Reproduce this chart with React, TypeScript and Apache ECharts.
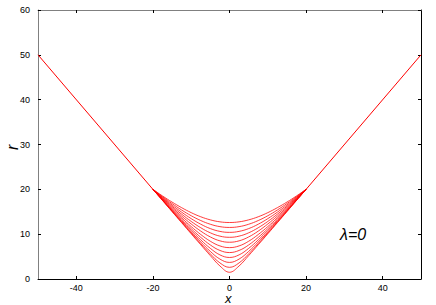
import React, { useEffect, useRef } from "react";
import * as echarts from "echarts";

// x positions (half, x >= 0); curves are symmetric about x = 0
const xHalf = [0, 2.5, 5, 7.5, 10, 12.5, 15, 17.5, 20];

// r values at xHalf
const curve1 = [1.5, 2.91, 5.21, 7.63, 10.08, 12.56, 15.03, 17.52, 20];
const curve2 = [2.6, 3.59, 5.6, 7.88, 10.25, 12.66, 15.1, 17.55, 20];
const curve3 = [3.7, 4.44, 6.15, 8.25, 10.5, 12.83, 15.2, 17.59, 20];
const curve4 = [4.8, 5.38, 6.83, 8.72, 10.83, 13.05, 15.33, 17.65, 20];
const curve5 = [5.9, 6.37, 7.59, 9.28, 11.23, 13.32, 15.5, 17.73, 20];
const curve6 = [7.0, 7.38, 8.42, 9.92, 11.69, 13.64, 15.7, 17.83, 20];
const curve7 = [8.2, 8.51, 9.38, 10.68, 12.27, 14.04, 15.95, 17.95, 20];
const curve8 = [9.3, 9.56, 10.3, 11.43, 12.84, 14.46, 16.21, 18.07, 20];
const curve9 = [10.4, 10.62, 11.24, 12.22, 13.46, 14.91, 16.5, 18.21, 20];
const curve10 = [11.5, 11.68, 12.21, 13.04, 14.11, 15.39, 16.82, 18.36, 20];
const curve11 = [12.6, 12.75, 13.19, 13.88, 14.8, 15.91, 17.16, 18.53, 20];
const curves = [curve1, curve2, curve3, curve4, curve5, curve6, curve7, curve8, curve9, curve10, curve11];

// outer straight branches
const leftBranch: [number, number][] = [[-50, 50], [-20, 20]];
const rightBranch: [number, number][] = [[20, 20], [50, 50]];

const xTickValues = [-40, -20, 0, 20, 40];
const annotation = "λ=0";

const FONT = "'Liberation Sans', Arial, Helvetica, sans-serif";
const RED = "#ff0000";

function mirror(vals: number[]): [number, number][] {
  const pts: [number, number][] = [];
  for (let i = xHalf.length - 1; i > 0; i--) pts.push([-xHalf[i], vals[i]]);
  for (let i = 0; i < xHalf.length; i++) pts.push([xHalf[i], vals[i]]);
  return pts;
}

export default function App() {
  const ref = useRef<HTMLDivElement>(null);
  useEffect(() => {
    if (!ref.current) return;
    const chart = echarts.init(ref.current, null, { renderer: "svg" });
    const series: any[] = curves.map((c) => ({
      type: "line",
      data: mirror(c),
      smooth: 0.4,
      showSymbol: false,
      symbol: "none",
      lineStyle: { color: RED, width: 0.9, opacity: 0.85 },
      silent: true,
    }));
    series.push(
      { type: "line", data: leftBranch, showSymbol: false, symbol: "none", lineStyle: { color: RED, width: 1 }, silent: true },
      { type: "line", data: rightBranch, showSymbol: false, symbol: "none", lineStyle: { color: RED, width: 1 }, silent: true }
    );
    const tickStyle = { show: true, inside: true, length: 3, lineStyle: { color: "#000", width: 1 } };
    chart.setOption({
      animation: false,
      grid: { left: 38, right: 15, top: 10, bottom: 26 },
      xAxis: [
        {
          type: "value",
          min: -50,
          max: 50,
          position: "bottom",
          splitLine: { show: false },
          axisLine: { show: true, onZero: false, lineStyle: { color: "#000", width: 1 } },
          axisTick: { ...tickStyle, customValues: xTickValues },
          axisLabel: { customValues: xTickValues, color: "#000", fontSize: 9, lineHeight: 9, fontFamily: FONT, margin: 4 },
        },
        {
          type: "value",
          min: -50,
          max: 50,
          position: "top",
          splitLine: { show: false },
          axisLine: { show: true, onZero: false, lineStyle: { color: "#808080", width: 1 } },
          axisTick: { ...tickStyle, customValues: xTickValues },
          axisLabel: { show: false },
        },
      ],
      yAxis: [
        {
          type: "value",
          min: 0,
          max: 60,
          interval: 10,
          position: "left",
          splitLine: { show: false },
          axisLine: { show: true, onZero: false, lineStyle: { color: "#808080", width: 1 } },
          axisTick: tickStyle,
          axisLabel: { color: "#000", fontSize: 9, fontFamily: FONT, margin: 8 },
        },
        {
          type: "value",
          min: 0,
          max: 60,
          interval: 10,
          position: "right",
          splitLine: { show: false },
          axisLine: { show: true, onZero: false, lineStyle: { color: "#000", width: 1 } },
          axisTick: tickStyle,
          axisLabel: { show: false },
        },
      ],
      series,
      graphic: [
        {
          type: "text",
          left: 225,
          top: 292,
          style: { text: "x", font: `italic 13px ${FONT}`, lineHeight: 12, fill: "#000" },
        },
        {
          type: "text",
          x: 4,
          y: 150,
          rotation: Math.PI / 2,
          style: { text: "r", font: `italic 16px ${FONT}`, fill: "#000" },
        },
        {
          type: "text",
          left: 340,
          top: 226,
          style: { text: annotation, font: `italic 16px ${FONT}`, fill: "#000" },
        },
      ],
    });
    return () => chart.dispose();
  }, []);
  return <div ref={ref} style={{ width: 436, height: 305, position: "absolute", left: 0, top: 0 }} />;
}
